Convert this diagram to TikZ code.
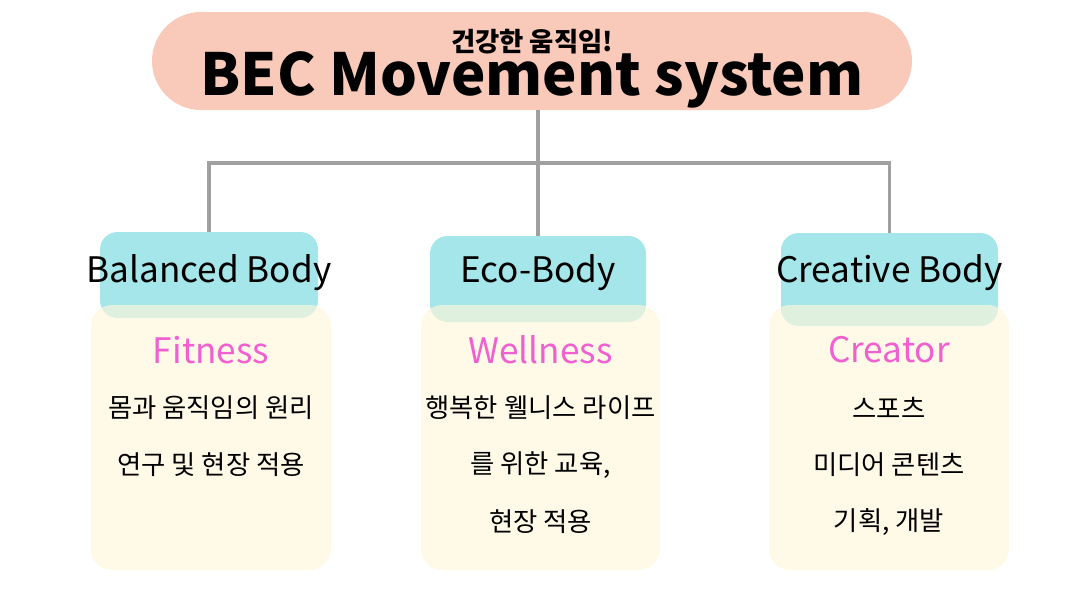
\documentclass[tikz,border=0pt]{standalone}
\usepackage{fontspec}
\setmainfont{Noto Sans CJK KR}
\definecolor{titlefill}{HTML}{F9C9BA}
\definecolor{headfill}{HTML}{A5E6EA}
\definecolor{bodyfill}{HTML}{FFF6DA}
\definecolor{pinktext}{HTML}{F060D0}
\definecolor{linegray}{HTML}{A0A0A0}
\tikzset{
  headbox/.style={fill=headfill, rounded corners=10pt},
  bodybox/.style={fill=bodyfill, fill opacity=0.65, rounded corners=12pt},
  headtext/.style={font=\fontsize{20}{22}\selectfont, text=black},
  subtext/.style={font=\fontsize{20}{22}\selectfont, text=pinktext},
  linetext/.style={font=\fontsize{15}{17}\selectfont},
  link/.style={draw=linegray, line width=2pt}
}
\begin{document}
\begin{tikzpicture}[x=0.02cm, y=-0.02cm]
\useasboundingbox (0,0) rectangle (1076,605);
% title
\fill[titlefill, rounded corners=49*0.02cm] (152,12) rectangle (912,110);
\node[font=\fontsize{15}{17}\selectfont\bfseries] (small) at (532,42) {건강한 움직임!};
\node[font=\fontsize{33}{36}\selectfont\bfseries] (title) at (532,80) {BEC Movement system};
\coordinate (top) at (538,110);
\coordinate (mid) at (538,163);
% columns
\foreach \name/\hx/\hy/\hw/\hh/\bx/\bw/\hd/\sub/\la/\lb/\lc in {%
one/100/232/218/86/91/240/{Balanced Body}/{Fitness}/{몸과 움직임의 원리}/{연구 및 현장 적용}/{},%
two/430/236/216/86/421/239/{Eco-Body}/{Wellness}/{행복한 웰니스 라이프}/{를 위한 교육,}/{현장 적용},%
three/781/233/217/93/769/240/{Creative Body}/{Creator}/{스포츠}/{미디어 콘텐츠}/{기획, 개발}}{
  \fill[headbox] (\hx,\hy) rectangle ++(\hw,\hh);
  \coordinate (\name-top) at (\hx+\hw/2,\hy);
  \fill[bodybox] (\bx,305) rectangle ++(\bw,265);
  \node[headtext] (\name-head) at (\hx+\hw/2,273) {\hd};
  \node[subtext] (\name-sub) at (\bx+\bw/2,350) {\sub};
  \node[linetext] (\name-a) at (\bx+\bw/2,408) {\la};
  \node[linetext] (\name-b) at (\bx+\bw/2,465) {\lb};
  \node[linetext] (\name-c) at (\bx+\bw/2,522) {\lc};
}
% connectors
\draw[link] (top) -- (mid);
\draw[link] (one-top) |- (mid) -| (three-top);
\draw[link] (mid) -- (two-top);
\end{tikzpicture}
\end{document}
